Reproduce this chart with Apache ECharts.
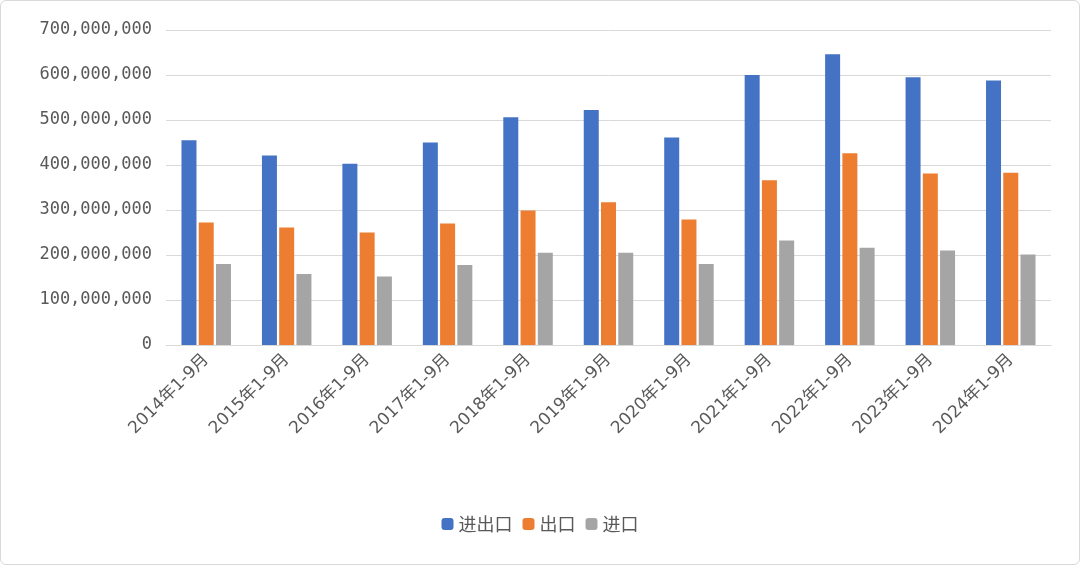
<!DOCTYPE html>
<html>
<head>
<meta charset="utf-8">
<script src="https://cdn.jsdelivr.net/npm/echarts@6/dist/echarts.min.js"></script>
<style>
html,body{margin:0;padding:0;background:#fff;}
#main{width:1078px;height:563px;border:1px solid #d9d9d9;border-radius:6px;}
</style>
</head>
<body>
<div id="main"></div>
<script>
var categories = ['2014年1-9月','2015年1-9月','2016年1-9月','2017年1-9月','2018年1-9月','2019年1-9月','2020年1-9月','2021年1-9月','2022年1-9月','2023年1-9月','2024年1-9月'];
var totalTrade = [455e6, 421e6, 403e6, 450e6, 506e6, 522e6, 461e6, 600e6, 646e6, 595e6, 588e6];
var exports_ = [272e6, 261e6, 250e6, 270e6, 299e6, 317e6, 279e6, 366e6, 426e6, 381e6, 383e6];
var imports_ = [180e6, 158e6, 152e6, 178e6, 205e6, 205e6, 180e6, 232e6, 216e6, 210e6, 201e6];

var myChart = echarts.init(document.getElementById('main'));
var font = '"Noto Sans CJK SC", "DejaVu Sans", sans-serif';

option = {
    animation: false,
    textStyle: { fontFamily: font },
    legend: {
        data: ['进出口', '出口', '进口'],
        bottom: 26,
        left: 'center',
        itemWidth: 12,
        itemHeight: 12,
        itemGap: 10,
        textStyle: { color: '#595959', fontSize: 18 }
    },
    grid: { left: 165, right: 28, top: 29, bottom: 219 },
    xAxis: {
        type: 'category',
        data: categories,
        axisTick: { show: false },
        axisLine: { lineStyle: { color: '#d9d9d9' } },
        axisLabel: { rotate: 45, color: '#595959', fontSize: 17, interval: 0, margin: 12,
            fontFamily: '"DejaVu Sans", "Noto Sans CJK SC", sans-serif' }
    },
    yAxis: {
        type: 'value',
        min: 0,
        max: 700000000,
        interval: 100000000,
        axisLabel: {
            color: '#595959',
            fontSize: 17,
            margin: 14,
            fontFamily: '"DejaVu Sans Mono", monospace',
            formatter: function (v) { return v.toLocaleString('en-US'); }
        },
        splitLine: { lineStyle: { color: '#d9d9d9' } }
    },
    series: [
        { name: '进出口', type: 'bar', data: totalTrade, barWidth: 15, barGap: '15%', itemStyle: { color: '#4472c4' } },
        { name: '出口', type: 'bar', data: exports_, barWidth: 15, barGap: '15%', itemStyle: { color: '#ed7d31' } },
        { name: '进口', type: 'bar', data: imports_, barWidth: 15, barGap: '15%', itemStyle: { color: '#a5a5a5' } }
    ]
};

myChart.setOption(option);
</script>
</body>
</html>
